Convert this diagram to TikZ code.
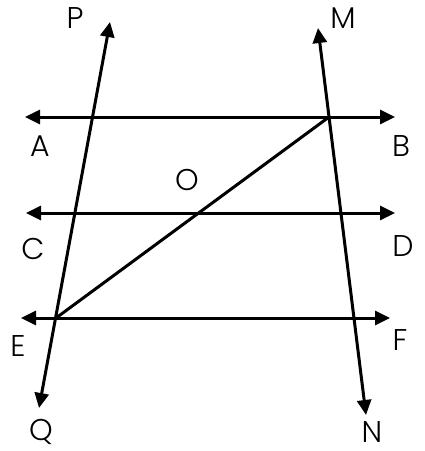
\documentclass[tikz,border=0pt]{standalone}
\usepackage{fontspec}
\setmainfont{Poppins}[UprightFont=* Light]
\usepackage{tikz}
\usetikzlibrary{arrows.meta,positioning,calc}

\begin{document}
\begin{tikzpicture}[x=1pt, y=-1pt]
    \tikzstyle{line}=[line width=3pt, {Triangle[length=15pt,width=14pt]}-{Triangle[length=15pt,width=14pt]}]
    \tikzstyle{seg}=[line width=3pt]
    \tikzstyle{lbl}=[font=\fontsize{30}{34}\selectfont, inner sep=0pt]
    \useasboundingbox (0,0) rectangle (425,451);
    % Parallel lines
    \coordinate (a) at (25,117);
    \coordinate (b) at (395,117);
    \coordinate (c) at (26,213);
    \coordinate (d) at (395,213);
    \coordinate (e) at (21,318);
    \coordinate (f) at (390,318);
    \draw[line] (a) -- (b);
    \draw[line] (c) -- (d);
    \draw[line] (e) -- (f);
    % Transversals
    \coordinate (p) at (110,22);
    \coordinate (q) at (39,408);
    \coordinate (m) at (318,28);
    \coordinate (n) at (366,415);
    \draw[line] (q) -- (p);
    \draw[line] (n) -- (m);
    % Diagonal
    \coordinate (bb) at (329,117);
    \coordinate (ee) at (56,318);
    \draw[seg] (bb) -- (ee);
    % Labels
    \node[lbl] (P) at (75,18) {P};
    \node[lbl] (M) at (343,18) {M};
    \node[lbl] (A) at (40,146) {A};
    \node[lbl] (B) at (401,146) {B};
    \node[lbl] (O) at (187,180) {O};
    \node[lbl] (C) at (33,249) {C};
    \node[lbl] (D) at (403,246) {D};
    \node[lbl] (E) at (18,346) {E};
    \node[lbl] (F) at (400,340) {F};
    \node[lbl] (Q) at (41,432) {Q};
    \node[lbl] (N) at (372,432) {N};
\end{tikzpicture}
\end{document}
